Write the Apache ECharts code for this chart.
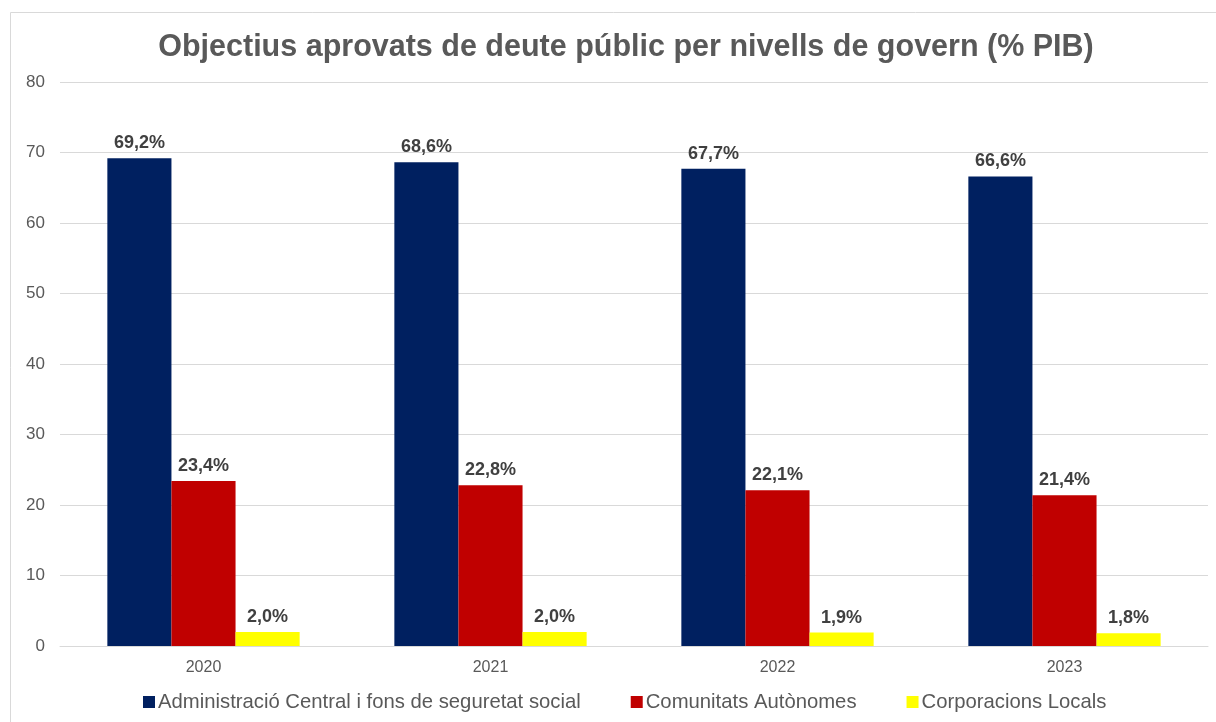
<!DOCTYPE html>
<html><head><meta charset="utf-8">
<script src="https://cdn.jsdelivr.net/npm/echarts@6/dist/echarts.min.js"></script>
<style>html,body{margin:0;padding:0;background:#fff;}#c{width:1216px;height:722px;}</style>
</head><body><div id="c"></div>
<script>
const categories = ['2020','2021','2022','2023'];
const centralValues = [69.2, 68.6, 67.7, 66.6];
const autonomesValues = [23.4, 22.8, 22.1, 21.4];
const localsValues = [2.0, 2.0, 1.9, 1.8];
const seriesNames = ['Administració Central i fons de seguretat social','Comunitats Autònomes','Corporacions Locals'];
const colors = ['#002060','#C00000','#FFFF00'];

const chart = echarts.init(document.getElementById('c'), null, {renderer:'canvas'});
const fmt = p => p.value.toFixed(1).replace('.', ',') + '%';
const label = {show:true, position:'top', formatter:fmt, fontFamily:'Liberation Sans', fontSize:18, fontWeight:'bold', color:'#404040', distance:6};
const mk = (name, data, color) => ({name, type:'bar', data, itemStyle:{color}, barGap:'0%', barCategoryGap:'33%', label});
chart.setOption({
  animation:false,
  textStyle:{fontFamily:'Liberation Sans'},
  graphic:[{type:'rect', shape:{x:10.5,y:12.5,width:1220,height:720}, style:{fill:null, stroke:'#d9d9d9', lineWidth:1}}],
  title:{text:'Objectius aprovats de deute públic per nivells de govern (% PIB)', left:621, top:27, textAlign:'center',
    textStyle:{fontFamily:'Liberation Sans', fontSize:30.5, fontWeight:'bold', color:'#595959'}},
  legend:{bottom:5, left:138, itemWidth:12, itemHeight:12, itemGap:50, icon:'rect',
    textStyle:{fontFamily:'Liberation Sans', fontSize:20.3, color:'#595959', padding:[0,0,0,-2]}},
  grid:{left:60, right:8, top:82, bottom:76},
  xAxis:{type:'category', data:categories, axisTick:{show:false}, axisLine:{lineStyle:{color:'#d9d9d9', width:1}},
    axisLabel:{fontFamily:'Liberation Sans', fontSize:16, color:'#595959', margin:14}},
  yAxis:{type:'value', min:0, max:80, interval:10, axisLine:{show:false}, axisTick:{show:false},
    splitLine:{lineStyle:{color:'#d9d9d9', width:1}},
    axisLabel:{fontFamily:'Liberation Sans', fontSize:17, color:'#595959', margin:15}},
  series:[mk(seriesNames[0], centralValues, colors[0]), mk(seriesNames[1], autonomesValues, colors[1]), mk(seriesNames[2], localsValues, colors[2])]
});
</script></body></html>
